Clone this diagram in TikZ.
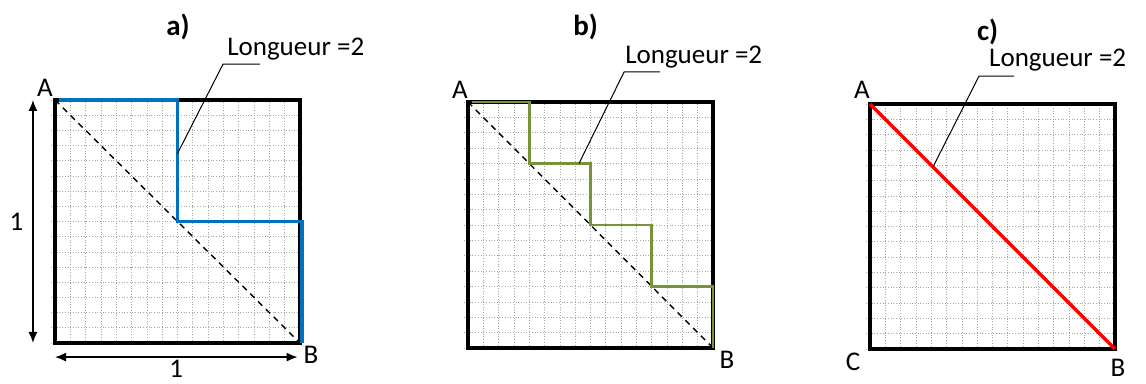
\documentclass[tikz,border=0pt]{standalone}
\usepackage{fontspec}
\setmainfont{Carlito}
\usetikzlibrary{calc,arrows.meta}
\definecolor{pathblue}{RGB}{0,112,192}
\definecolor{pathgreen}{RGB}{119,147,60}
\definecolor{pathred}{RGB}{255,0,0}

\begin{document}
\begin{tikzpicture}[x=1pt, y=1pt,
	frame/.style={line width=3.5pt},
	gridline/.style={gray!70, dotted, line width=0.7pt},
	diag/.style={dash pattern=on 6pt off 5pt, line width=1.4pt},
	route/.style={line width=3.4pt},
	leader/.style={line width=1pt},
	dimarrow/.style={{Latex[length=11pt,width=9pt]}-{Latex[length=11pt,width=9pt]}, line width=1.4pt},
	lbl/.style={font=\fontsize{27}{30}\selectfont, inner sep=1pt},
	head/.style={font=\fontsize{29}{32}\selectfont\bfseries, inner sep=1pt}]
	\useasboundingbox (0,0) rectangle (1146,383);
	
	% a)
	\begin{scope}[shift={(55pt,40pt)}, x=245pt, y=243pt]
		\draw[gridline] (-0.015,0) grid[step=0.0625] (1,1);
		\draw[frame] (0,0) rectangle (1,1);
		\coordinate (A1) at (0,1);
		\coordinate (B1) at (1,0);
		\draw[diag] (A1) -- (B1);
		\draw[route, pathblue] (0.015,1) -- (0.5,1) -- (0.5,0.5) -- (1.008,0.5) -- (1.008,0);
		\node[lbl] (la1) at ($(A1)+(-10pt,12pt)$) {A};
		\node[lbl] (lb1) at ($(B1)+(11pt,-12pt)$) {B};
		\node[head] (ha) at (0.502,1.3) {a)};
		
		\coordinate (pa) at (0.5,0.78);
		\coordinate (ka) at (0.686,1.148);
		\coordinate (ea) at (0.837,1.148);
		\draw[leader] (pa) -- (ka) -- (ea);
		\node[lbl, anchor=south west, xshift=3pt, yshift=3pt] (ta) at (ka) {Longueur =2};
		
		\coordinate (v0) at (-0.09,0);
		\coordinate (v1) at (-0.09,1);
		\draw[dimarrow] (v0) -- node[lbl, left, xshift=-8pt] (nv) {1} (v1);
		\coordinate (h0) at (0,-0.058);
		\coordinate (h1) at (0.99,-0.058);
		\draw[dimarrow] (h0) -- node[lbl, below, yshift=-1pt] (nh) {1} (h1);
	\end{scope}
	
	% b)
	\begin{scope}[shift={(468pt,35pt)}, x=245pt, y=246pt]
		\draw[gridline] (-0.015,0) grid[step=0.0625] (1,1);
		\draw[frame] (0,0) rectangle (1,1);
		\coordinate (A2) at (0,1);
		\coordinate (B2) at (1,0);
		\draw[diag] (A2) -- (B2);
		\draw[route, pathgreen, line width=2.8pt] (0.015,1) -- (0.25,1) -- (0.25,0.75) -- (0.5,0.75) -- (0.5,0.5)
			-- (0.75,0.5) -- (0.75,0.25) -- (1,0.25) -- (B2);
		\node[lbl] (la2) at ($(A2)+(-8pt,12pt)$) {A};
		\node[lbl] (lb2) at ($(B2)+(14pt,-12pt)$) {B};
		\node[head] (hb) at (0.48,1.305) {b)};
		
		\coordinate (pb) at (0.453,0.75);
		\coordinate (kb) at (0.637,1.122);
		\coordinate (eb) at (0.784,1.122);
		\draw[leader] (pb) -- (kb) -- (eb);
		\node[lbl, anchor=south west, xshift=0pt, yshift=3pt] (tb) at (kb) {Longueur =2};
	\end{scope}
	
	% c)
	\begin{scope}[shift={(870pt,34pt)}, x=245pt, y=245pt]
		\draw[gridline] (-0.015,0) grid[step=0.0625] (1,1);
		\draw[frame] (0,0) rectangle (1,1);
		\coordinate (A3) at (0,1);
		\coordinate (B3) at (1,0);
		\coordinate (C3) at (0,0);
		\draw[route, pathred] (A3) -- (B3);
		\node[lbl] (la3) at ($(A3)+(-8pt,14pt)$) {A};
		\node[lbl] (lb3) at ($(B3)+(3pt,-19pt)$) {B};
		\node[lbl] (lc3) at ($(C3)+(-17pt,-13pt)$) {C};
		\node[head] (hc) at (0.48,1.294) {c)};
		
		\coordinate (pc) at (0.257,0.743);
		\coordinate (kc) at (0.445,1.114);
		\coordinate (ec) at (0.588,1.114);
		\draw[leader] (pc) -- (kc) -- (ec);
		\node[lbl, anchor=south west, xshift=9pt, yshift=4pt] (tc) at (kc) {Longueur =2};
	\end{scope}
\end{tikzpicture}
\end{document}
